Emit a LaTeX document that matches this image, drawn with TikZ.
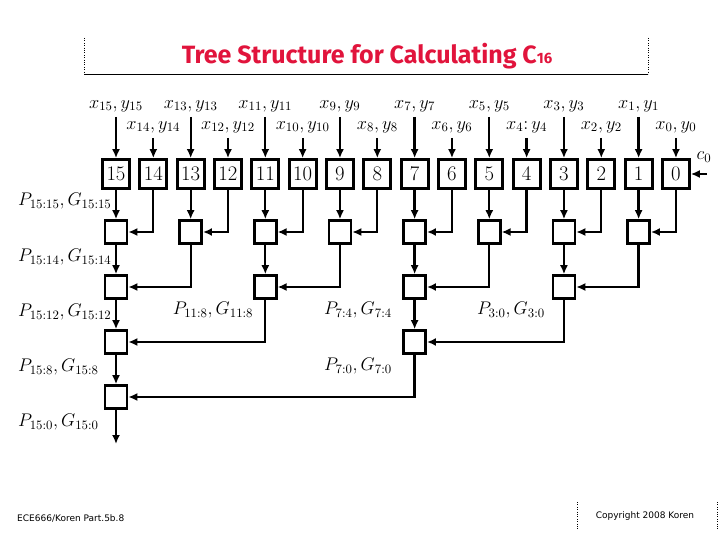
\RequirePackage{fix-cm}
\documentclass[tikz,border=0pt]{standalone}
\usepackage{fontspec}
\usetikzlibrary{arrows.meta}
\newfontfamily\ttl{Fira Sans}
\newfontfamily\ftr{DejaVu Sans}
\newcommand\mymt[1]{\scalebox{1.22}{$#1$}}
\begin{document}
\begin{tikzpicture}[x=1pt,y=-1pt,
  bigbox/.style={draw,line width=2.8pt,minimum width=27pt,minimum height=29pt,inner sep=0pt,font=\fontsize{18}{20}\selectfont},
  smallbox/.style={draw,line width=2.6pt,minimum width=22pt,minimum height=23pt,inner sep=0pt},
  arr/.style={line width=2.3pt,-{Latex[length=9pt,width=8pt]}},
  lbl/.style={inner sep=0pt,font=\fontsize{15}{17}\selectfont},
]
\useasboundingbox (0,0) rectangle (720,540);
% title
\node[lbl,font=\ttl\bfseries\fontsize{25}{30}\selectfont,text={rgb,255:red,225;green,20;blue,60}] (title) at (367,56) {Tree Structure for Calculating C{\fontsize{15}{17}\selectfont 16}};
\draw[dotted] (84,38) -- (84,74);
\draw[dotted] (648,38) -- (648,74);
\draw[line width=0.8pt] (84,74) -- (648,74);
% top boxes
\foreach \i in {0,...,15} {
  \pgfmathsetmacro\xx{116+(15-\i)*37.33}
  \node[bigbox] (b\i) at (\xx,174) {\scalebox{1.15}{$\i$}};
}
% inputs
\foreach \i in {15,13,11,9,7,5,3,1} {
  \node[lbl] (in\i) at (b\i |- 0,106) {\mymt{x_{\i},y_{\i}}};
  \draw[arr] (b\i.north |- 0,117) coordinate (s\i) -- (b\i.north);
}
\foreach \i in {14,12,10,8,6,2,0} {
  \node[lbl] (in\i) at (b\i |- 0,127) {\mymt{x_{\i},y_{\i}}};
  \draw[arr] (b\i.north |- 0,138) coordinate (s\i) -- (b\i.north);
}
\node[lbl] (in4) at (b4 |- 0,127) {\mymt{x_{4}{:}\,y_{4}}};
\draw[arr] (b4.north |- 0,138) coordinate (s4) -- (b4.north);
% c0
\node[lbl] (c0) at (704,157) {\mymt{c_0}};
\coordinate (c0s) at (707,174);
\draw[arr] (c0s) -- (b0.east);
% level 1
\foreach \i/\j in {15/14,13/12,11/10,9/8,7/6,5/4,3/2,1/0} {
  \node[smallbox] (l1\i) at (b\i |- 0,232) {};
  \draw[arr] (b\i.south) -- (l1\i.north);
  \draw[arr] (b\j.south) |- (l1\i.east);
}
% level 2
\foreach \i/\j in {15/13,11/9,7/5,3/1} {
  \node[smallbox] (l2\i) at (b\i |- 0,287) {};
  \draw[arr] (l1\i.south) -- (l2\i.north);
  \draw[arr] (l1\j.south) |- (l2\i.east);
}
% level 3
\foreach \i/\j in {15/11,7/3} {
  \node[smallbox] (l3\i) at (b\i |- 0,342) {};
  \draw[arr] (l2\i.south) -- (l3\i.north);
  \draw[arr] (l2\j.south) |- (l3\i.east);
}
% level 4
\node[smallbox] (l415) at (b15 |- 0,397) {};
\draw[arr] (l315.south) -- (l415.north);
\draw[arr] (l37.south) |- (l415.east);
\coordinate (out) at (116,444);
\draw[arr] (l415.south) -- (out);
% labels
\node[lbl,anchor=west] (p1) at (18,201) {\mymt{P_{15:15},G_{15:15}}};
\node[lbl,anchor=west] (p2) at (18,257) {\mymt{P_{15:14},G_{15:14}}};
\node[lbl,anchor=west] (p3) at (18,312) {\mymt{P_{15:12},G_{15:12}}};
\node[lbl,anchor=west] (p4) at (18,367) {\mymt{P_{15:8},G_{15:8}}};
\node[lbl,anchor=west] (p5) at (18,422) {\mymt{P_{15:0},G_{15:0}}};
\node[lbl] (p118) at (213,310) {\mymt{P_{11:8},G_{11:8}}};
\node[lbl] (p74) at (358,310) {\mymt{P_{7:4},G_{7:4}}};
\node[lbl] (p30) at (511,310) {\mymt{P_{3:0},G_{3:0}}};
\node[lbl] (p70) at (358,366) {\mymt{P_{7:0},G_{7:0}}};
% footer
\node[lbl,anchor=west,font=\ftr\fontsize{9}{11}\selectfont] (f1) at (17,518) {ECE666/Koren Part.5b.8};
\node[lbl,font=\ftr\fontsize{9}{11}\selectfont] (f2) at (645,516) {Copyright 2008 Koren};
\draw[dotted] (577,502) -- (577,530);
\draw[dotted] (717,502) -- (717,530);
\end{tikzpicture}
\end{document}
